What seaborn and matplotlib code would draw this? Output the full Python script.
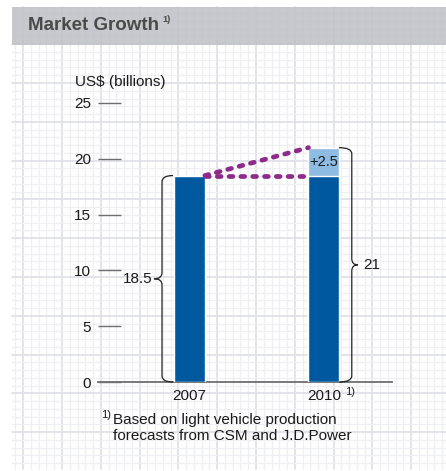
import numpy as np
import pandas as pd
import matplotlib
matplotlib.use("Agg")
import matplotlib.pyplot as plt
from matplotlib.path import Path
from matplotlib.patches import PathPatch, Rectangle
import seaborn as sns

# ---- data ----
years = ["2007", "2010"]
base_values = [18.5, 18.5]
increase = [0.0, 2.5]
y_ticks = [0, 5, 10, 15, 20, 25]
title = "Market Growth"
unit_label = "US$ (billions)"
footnote = "Based on light vehicle production\nforecasts from CSM and J.D.Power"

totals = [b + i for b, i in zip(base_values, increase)]
df = pd.DataFrame({"year": years, "base": base_values, "total": totals})

# ---- style ----
sns.set_style("white")
plt.rcParams["font.family"] = ["Liberation Sans", "DejaVu Sans"]

DARK_BLUE = "#00599f"
LIGHT_BLUE = "#8dbbe1"
PURPLE = "#8d2b8b"
TEXT = "#1a1a1a"

W, H = 446, 471
fig = plt.figure(figsize=(W / 100, H / 100), dpi=100)
fig.patch.set_facecolor("white")

# ---- graph-paper background and header band (pixel coordinates) ----
bg = fig.add_axes([0, 0, 1, 1])
bg.set_xlim(0, W)
bg.set_ylim(H, 0)
bg.axis("off")

x0, x1, y0, y1 = 12, W, 7, 469
step = 38.8 / 5
xs = np.arange(62 - 2 * 38.8, x1, step)
ys = np.arange(83 - 2 * 38.8, y1, step)
FINE, BOLD = "#eeeff3", "#e1e2e7"
for k, x in enumerate(xs):
    if x < x0:
        continue
    bold = (k % 5 == 0)
    bg.plot([x, x], [y0, y1], color=BOLD if bold else FINE,
            lw=1.3 if bold else 0.9, zorder=1)
for k, y in enumerate(ys):
    if y < y0:
        continue
    bold = (k % 5 == 0)
    bg.plot([x0, x1], [y, y], color=BOLD if bold else FINE,
            lw=1.3 if bold else 0.9, zorder=1)

bg.add_patch(Rectangle((x0, y0), x1 - x0, 38, facecolor="#c2c3c8",
                       edgecolor="none", alpha=0.9, zorder=2))
bg.text(28, 25, title, fontsize=13.5, fontweight="bold", color="#4a4a4a",
        ha="left", va="center", zorder=3)
bg.text(162, 20, "1)", fontsize=6.5, fontweight="bold", color="#4a4a4a",
        ha="left", va="center", zorder=3)

# ---- main chart axes ----
ax = fig.add_axes([98 / W, (H - 382) / H, (392 - 98) / W, (382 - 103) / H])
ax.set_facecolor("none")

bar_w = 0.23
sns.barplot(data=df, x="year", y="total", color=LIGHT_BLUE, saturation=1,
            width=bar_w, errorbar=None, ax=ax, zorder=2)
sns.barplot(data=df, x="year", y="base", color=DARK_BLUE, saturation=1,
            width=bar_w, errorbar=None, ax=ax, zorder=3)

ax.set_xlim(-0.680, 1.506)
ax.set_ylim(0, 25)
ax.set_yticks(y_ticks)
ax.set_yticklabels([str(t) for t in y_ticks])
ax.set_xlabel("")
ax.set_ylabel("")
for side in ("top", "right", "left"):
    ax.spines[side].set_visible(False)
ax.spines["bottom"].set_color("#6e6e6e")
ax.spines["bottom"].set_linewidth(1.3)
ax.tick_params(axis="y", left=True, direction="in", length=16.5, width=1.0,
               color="#6e6e6e", pad=5, labelsize=11, labelcolor=TEXT)
ax.tick_params(axis="x", bottom=False, length=0, pad=5, labelsize=11,
               labelcolor=TEXT)

# superscript footnote mark next to the second year
ax.text(1.156, -0.036, "1)", transform=ax.get_xaxis_transform(),
        fontsize=8, color=TEXT, ha="left", va="center")

# dotted growth lines from the first bar to the second bar
left_edge = 0 + bar_w / 2
right_edge = 1 - bar_w / 2
dot_style = dict(color=PURPLE, lw=3.4, linestyle=(0, (0.8, 1.7)),
                 dash_capstyle="round", zorder=4)
ax.plot([left_edge, right_edge], [base_values[0], totals[1]], **dot_style)
ax.plot([left_edge, right_edge], [base_values[0], base_values[1]], **dot_style)

# increment label inside the light segment
ax.text(1, base_values[1] + increase[1] / 2, f"+{increase[1]:g}",
        fontsize=10.5, color=TEXT, ha="center", va="center", zorder=5)


def brace(axis, x_spine, x_end, x_tip, y_low, y_high, r=0.55):
    """Curly brace along x_spine; ends curl toward x_end, tip points to x_tip."""
    ym = (y_low + y_high) / 2
    verts = [
        (x_end, y_high), (x_spine, y_high), (x_spine, y_high - r),
        (x_spine, ym + r),
        (x_spine, ym), (x_tip, ym),
        (x_spine, ym), (x_spine, ym - r),
        (x_spine, y_low + r),
        (x_spine, y_low), (x_end, y_low),
    ]
    codes = [Path.MOVETO, Path.CURVE3, Path.CURVE3, Path.LINETO,
             Path.CURVE3, Path.CURVE3, Path.CURVE3, Path.CURVE3,
             Path.LINETO, Path.CURVE3, Path.CURVE3]
    axis.add_patch(PathPatch(Path(verts, codes), facecolor="none",
                             edgecolor="#222222", lw=0.9, clip_on=False,
                             zorder=4))
    return ym


ym0 = brace(ax, -0.204, -0.122, -0.263, 0, totals[0])
ax.text(-0.278, ym0, f"{totals[0]:g}", fontsize=11, color=TEXT,
        ha="right", va="center", clip_on=False)
ym1 = brace(ax, 1.207, 1.111, 1.252, 0, totals[1])
ax.text(1.295, ym1, f"{totals[1]:g}", fontsize=11, color=TEXT,
        ha="left", va="center", clip_on=False)

# unit label and footnote
fig.text(75 / W, 1 - 82 / H, unit_label, fontsize=11, color=TEXT,
         ha="left", va="center")
fig.text(101 / W, 1 - 415 / H, "1)", fontsize=8, color=TEXT,
         ha="left", va="center")
fig.text(113 / W, 1 - 413 / H, footnote, fontsize=11, color=TEXT,
         ha="left", va="top", linespacing=1.22)

fig.savefig("out.png", dpi=100, facecolor="white")
